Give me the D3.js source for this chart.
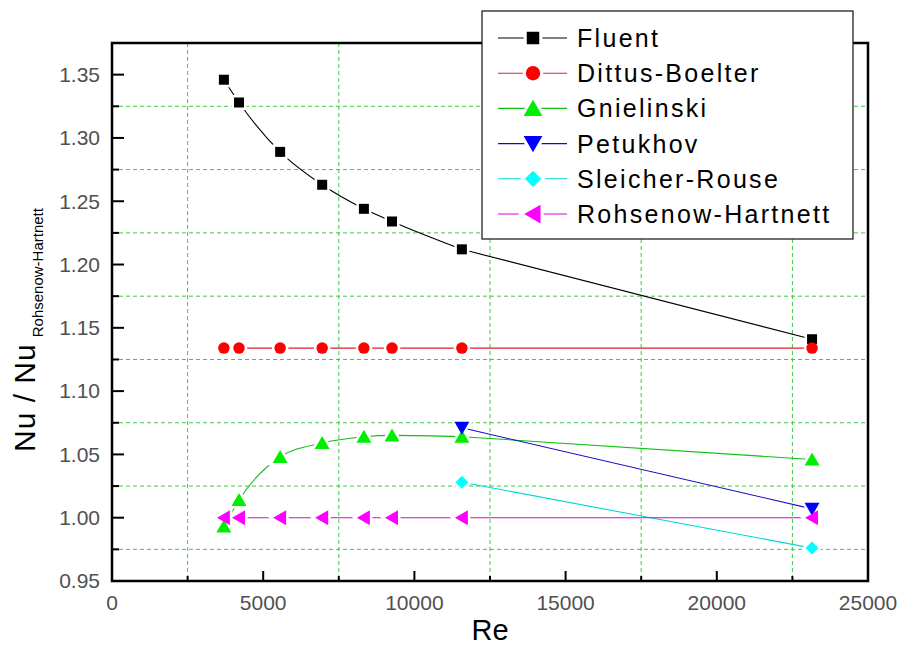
<!DOCTYPE html>
<html>
<head>
<meta charset="utf-8">
<script src="https://cdn.jsdelivr.net/npm/d3@7"></script>
<style>
  body { margin: 0; background: #fff; }
  svg { display: block; font-family: "Liberation Sans", Arial, sans-serif; }
</style>
</head>
<body>
<div id="chart"></div>
<script>
// data
var re = [3700, 4200, 5560, 6950, 8330, 9260, 11570, 23150];
var reHigh = [11570, 23150];
var fluent = [1.346, 1.328, 1.289, 1.263, 1.244, 1.234, 1.212, 1.141];
var dittusBoelter = [1.134, 1.134, 1.134, 1.134, 1.134, 1.134, 1.134, 1.134];
var gnielinski = [0.993, 1.014, 1.048, 1.059, 1.064, 1.065, 1.064, 1.046];
var petukhov = [1.071, 1.007];
var sleicherRouse = [1.028, 0.976];
var rohsenowHartnett = [1.0, 1.0, 1.0, 1.0, 1.0, 1.0, 1.0, 1.0];

var seriesNames = ["Fluent", "Dittus-Boelter", "Gnielinski", "Petukhov", "Sleicher-Rouse", "Rohsenow-Hartnett"];
var xTicks = [0, 5000, 10000, 15000, 20000, 25000];
var xMinor = [2500, 7500, 12500, 17500, 22500];
var yTicks = [0.95, 1.00, 1.05, 1.10, 1.15, 1.20, 1.25, 1.30, 1.35];
var yMinor = [0.975, 1.025, 1.075, 1.125, 1.175, 1.225, 1.275, 1.325];

// marker shapes (around 0,0)
var shapes = {
  square: "M-5,-5H5V5H-5Z",
  circle: "M5.75,0A5.75,5.75 0 1,1 -5.75,0A5.75,5.75 0 1,1 5.75,0Z",
  up: "M0,-7L7.5,6L-7.5,6Z",
  down: "M0,7L7.5,-6L-7.5,-6Z",
  diamond: "M0,-6.5L6.5,0L0,6.5L-6.5,0Z",
  left: "M-7,0L6,-7.5L6,7.5Z"
};

var series = [
  {name: seriesNames[0], x: re, y: fluent, line: "#000", fill: "#000", shape: "square"},
  {name: seriesNames[1], x: re, y: dittusBoelter, line: "#e02030", fill: "#f00", shape: "circle"},
  {name: seriesNames[2], x: re, y: gnielinski, line: "#10c010", fill: "#00ee00", shape: "up"},
  {name: seriesNames[3], x: reHigh, y: petukhov, line: "#1010c0", fill: "#0000ff", shape: "down"},
  {name: seriesNames[4], x: reHigh, y: sleicherRouse, line: "#00d8d8", fill: "#00ffff", shape: "diamond"},
  {name: seriesNames[5], x: re, y: rohsenowHartnett, line: "#e000e0", fill: "#ff00ff", shape: "left"}
];

var width = 910, height = 645;
var margin = {top: 43, right: 42, bottom: 64, left: 112};

var svg = d3.select("#chart")
  .append("svg")
    .attr("width", width)
    .attr("height", height);

var x = d3.scaleLinear()
    .domain([0, 25000])
    .range([margin.left, width - margin.right]);

var y = d3.scaleLinear()
    .domain([0.95, 1.375])
    .range([height - margin.bottom, margin.top]);

var x0 = x.range()[0], x1 = x.range()[1];
var y0 = y.range()[0], y1 = y.range()[1];

// dashed green grid at the minor positions
var grid = svg.append("g")
    .attr("stroke", "#3cc83c")
    .attr("stroke-width", 1)
    .attr("stroke-dasharray", "4,3");

grid.selectAll("line.v")
  .data(xMinor)
  .join("line")
    .attr("class", "v")
    .attr("x1", d => x(d)).attr("x2", d => x(d))
    .attr("y1", y1).attr("y2", y0);

grid.selectAll("line.h")
  .data(yMinor)
  .join("line")
    .attr("class", "h")
    .attr("x1", x0).attr("x2", x1)
    .attr("y1", d => y(d)).attr("y2", d => y(d));

// series lines: smooth through the dense part, straight over the long last step
var smooth = d3.line()
    .x(d => x(d[0]))
    .y(d => y(d[1]))
    .curve(d3.curveMonotoneX);

series.forEach(function(s) {
  s.points = s.x.map((v, i) => [v, s.y[i]]);
});

function seriesPath(pts) {
  if (pts.length < 3) return d3.line().x(d => x(d[0])).y(d => y(d[1]))(pts);
  var last = pts[pts.length - 1];
  return smooth(pts.slice(0, -1)) + "L" + x(last[0]) + "," + y(last[1]);
}

svg.append("g")
  .selectAll("path")
  .data(series)
  .join("path")
    .attr("fill", "none")
    .attr("stroke", d => d.line)
    .attr("stroke-width", 1.1)
    .attr("d", d => seriesPath(d.points));

// white gaps around the markers, then the markers
series.forEach(function(s) {
  svg.append("g")
    .selectAll("path")
    .data(s.points)
    .join("path")
      .attr("transform", d => "translate(" + x(d[0]) + "," + y(d[1]) + ")")
      .attr("d", shapes[s.shape])
      .attr("fill", "#fff")
      .attr("stroke", "#fff")
      .attr("stroke-width", 5);
});

series.forEach(function(s) {
  svg.append("g")
    .selectAll("path")
    .data(s.points)
    .join("path")
      .attr("transform", d => "translate(" + x(d[0]) + "," + y(d[1]) + ")")
      .attr("d", shapes[s.shape])
      .attr("fill", s.fill);
});

// inward ticks
var ticks = svg.append("g").attr("stroke", "#000").attr("stroke-width", 2);

ticks.selectAll("line.xt")
  .data(xTicks.concat(xMinor))
  .join("line")
    .attr("class", "xt")
    .attr("x1", d => x(d)).attr("x2", d => x(d))
    .attr("y1", y0)
    .attr("y2", d => y0 - (xTicks.includes(d) ? 10 : 5));

ticks.selectAll("line.yt")
  .data(yTicks.concat(yMinor))
  .join("line")
    .attr("class", "yt")
    .attr("y1", d => y(d)).attr("y2", d => y(d))
    .attr("x1", x0)
    .attr("x2", d => x0 + (yTicks.includes(d) ? 12 : 7));

// tick labels
svg.append("g")
    .attr("font-size", 21)
    .attr("fill", "#505050")
    .attr("text-anchor", "middle")
  .selectAll("text")
  .data(xTicks)
  .join("text")
    .attr("x", d => x(d))
    .attr("y", y0 + 22)
    .attr("dy", "0.35em")
    .text(d3.format("d"));

svg.append("g")
    .attr("font-size", 21)
    .attr("fill", "#505050")
    .attr("text-anchor", "end")
  .selectAll("text")
  .data(yTicks)
  .join("text")
    .attr("x", x0 - 12)
    .attr("y", d => y(d))
    .attr("dy", "0.35em")
    .text(d3.format(".2f"));

// frame
svg.append("rect")
    .attr("x", x0)
    .attr("y", y1)
    .attr("width", x1 - x0)
    .attr("height", y0 - y1)
    .attr("fill", "none")
    .attr("stroke", "#000")
    .attr("stroke-width", 2.5);

// axis titles
svg.append("text")
    .attr("x", (x0 + x1) / 2)
    .attr("y", 640)
    .attr("text-anchor", "middle")
    .attr("font-size", 29)
    .text("Re");

var yTitle = svg.append("text")
    .attr("transform", "translate(35,452) rotate(-90)")
    .attr("font-size", 30);
yTitle.append("tspan").attr("letter-spacing", 1).text("Nu / Nu");
yTitle.append("tspan")
    .attr("font-size", 15)
    .attr("dx", 6)
    .attr("dy", 8)
    .text("Rohsenow-Hartnett");

// legend
var legend = svg.append("g").attr("transform", "translate(482,11)");

legend.append("rect")
    .attr("width", 371)
    .attr("height", 228)
    .attr("fill", "#fff")
    .attr("stroke", "#222")
    .attr("stroke-width", 1.3);

var rows = legend.selectAll("g.row")
  .data(series)
  .join("g")
    .attr("class", "row")
    .attr("transform", (d, i) => "translate(0," + (27 + i * 35.2) + ")");

rows.append("line")
    .attr("x1", 16).attr("x2", 85)
    .attr("stroke", d => d.line)
    .attr("stroke-width", 1.1);

rows.append("path")
    .attr("transform", "translate(51,0) scale(1.25)")
    .attr("d", d => shapes[d.shape])
    .attr("fill", "#fff")
    .attr("stroke", "#fff")
    .attr("stroke-width", 5);

rows.append("path")
    .attr("transform", "translate(51,0) scale(1.25)")
    .attr("d", d => shapes[d.shape])
    .attr("fill", d => d.fill);

rows.append("text")
    .attr("x", 95)
    .attr("y", 9)
    .attr("font-size", 25)
    .attr("letter-spacing", 2.3)
    .text(d => d.name);
</script>
</body>
</html>
